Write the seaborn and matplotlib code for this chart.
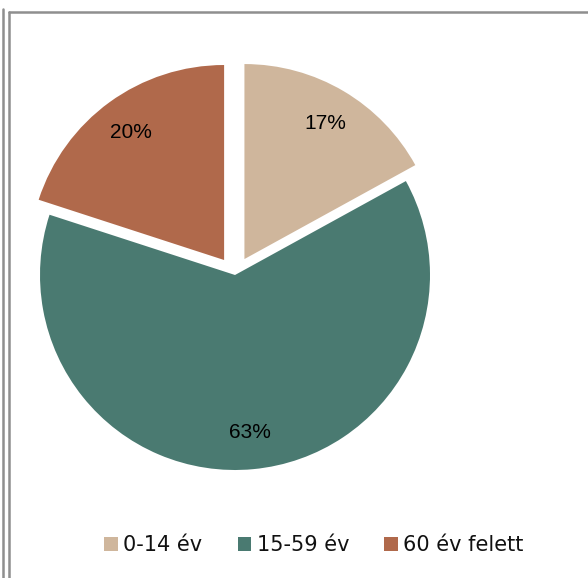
import matplotlib
matplotlib.use("Agg")
import matplotlib.pyplot as plt
import seaborn as sns
from matplotlib.lines import Line2D
from matplotlib.patches import Patch

categories = ["0-14 év", "15-59 év", "60 év felett"]
shares = [17, 63, 20]
colors = ["#CFB69C", "#4A7A71", "#B0694B"]

sns.set_theme(style="white")
plt.rcParams["font.family"] = ["DejaVu Sans"]
palette = sns.color_palette(colors)

fig = plt.figure(figsize=(5.88, 5.78), dpi=100)

# chart frame (double line on the left, single on top)
frame_kw = dict(color="#8f8f8f", linewidth=1.8, transform=fig.transFigure)
fig.add_artist(Line2D([2.5 / 588, 2.5 / 588], [0, 1 - 9 / 578], **frame_kw))
fig.add_artist(Line2D([9 / 588, 9 / 588], [0, 1 - 12 / 578], **frame_kw))
fig.add_artist(Line2D([9 / 588, 1], [1 - 12 / 578, 1 - 12 / 578], **frame_kw))

# pie centre at (235, 275) px, radius 195 px
half = 1.2 * 195
ax = fig.add_axes([(235 - half) / 588, (578 - 275 - half) / 578,
                   2 * half / 588, 2 * half / 578])
wedges, texts, autotexts = ax.pie(
    shares, colors=palette, explode=(0.095, 0, 0.095), startangle=90,
    counterclock=False, autopct="%1.0f%%", pctdistance=0.81,
    wedgeprops=dict(linewidth=0),
    textprops=dict(fontsize=15, color="black", family="Liberation Sans"))
ax.set_xlim(-1.2, 1.2)
ax.set_ylim(-1.2, 1.2)
ax.set_aspect("equal")
ax.axis("off")

handles = [Patch(facecolor=c, edgecolor="none") for c in palette]
fig.legend(handles, categories, loc="center", bbox_to_anchor=(314 / 588, 1 - 545 / 578),
           ncol=3, frameon=False, fontsize=15, handlelength=0.65, handleheight=0.65,
           handletextpad=0.25, columnspacing=1.7, labelcolor="#111111")

fig.savefig("out.png", dpi=100)
